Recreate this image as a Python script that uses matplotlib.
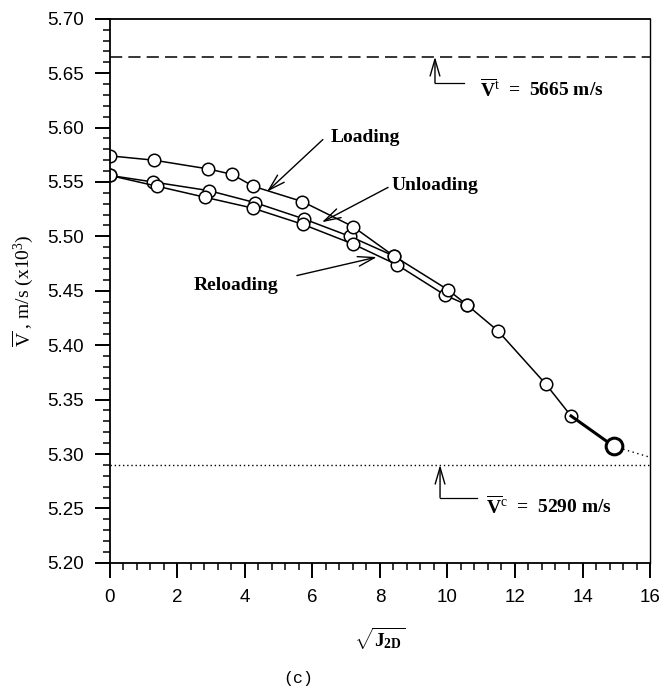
"""Pulse velocity vs sqrt(J2D) under loading / unloading / reloading (panel c)."""
import matplotlib
matplotlib.use("Agg")
import matplotlib.pyplot as plt
from matplotlib.ticker import MultipleLocator

# loading branch
load_x = [0.0, 1.31, 2.91, 3.62, 4.25, 5.70, 7.20, 8.41, 10.01, 10.58, 11.50, 12.92, 13.66]
load_v = [5.574, 5.570, 5.562, 5.557, 5.546, 5.532, 5.509, 5.482, 5.451, 5.437, 5.413, 5.364, 5.335]
# final loading stretch (drawn heavier in the original) and the peak point
final_x = [13.66, 14.93]
final_v = [5.335, 5.307]
# dotted extrapolation past the last point
extrap_x = [14.93, 16.0]
extrap_v = [5.307, 5.297]

# unloading branch
unload_x = [8.41, 7.11, 5.75, 4.30, 2.94, 1.28, 0.0]
unload_v = [5.482, 5.500, 5.516, 5.531, 5.542, 5.550, 5.556]

# reloading branch
reload_x = [0.0, 1.41, 2.81, 4.23, 5.72, 7.20, 8.50, 9.93, 10.58]
reload_v = [5.556, 5.546, 5.536, 5.526, 5.511, 5.493, 5.474, 5.446, 5.437]

V_T = 5.665   # tensile-side limit
V_C = 5.290   # compressive-side limit

plt.rcParams["font.family"] = ["Liberation Sans", "DejaVu Sans"]
plt.rcParams["mathtext.fontset"] = "custom"
plt.rcParams["mathtext.rm"] = "Liberation Serif"
plt.rcParams["mathtext.it"] = "Liberation Serif:italic"
plt.rcParams["mathtext.bf"] = "Liberation Serif:bold"
SERIF = ["Liberation Serif", "DejaVu Serif"]

fig = plt.figure(figsize=(6.66, 6.94), dpi=100)
ax = fig.add_axes([0.165, 0.189, 0.811, 0.784])

mk = dict(marker="o", ms=9, mfc="white", mec="black", mew=1.1, color="black", lw=1.1)
ax.plot(unload_x, unload_v, **mk)
ax.plot(reload_x, reload_v, **mk)
ax.plot(load_x, load_v, **mk)
ax.plot(final_x, final_v, color="black", lw=2.2)
ax.plot(extrap_x, extrap_v, color="black", lw=1.0, ls=(0, (1, 2.5)))
ax.plot(final_x[-1:], final_v[-1:], marker="o", ms=12, mfc="white", mec="black", mew=2.2)

ax.axhline(V_T, color="black", lw=1.1, ls=(0, (8, 4)))
ax.axhline(V_C, color="black", lw=1.0, ls=(0, (1, 2)))

ax.set_xlim(0, 16)
ax.set_ylim(5.20, 5.70)
ax.xaxis.set_major_locator(MultipleLocator(2))
ax.xaxis.set_minor_locator(MultipleLocator(0.4))
ax.yaxis.set_major_locator(MultipleLocator(0.05))
ax.yaxis.set_minor_locator(MultipleLocator(0.01))
ax.yaxis.set_major_formatter(matplotlib.ticker.FormatStrFormatter("%.2f"))
ax.tick_params(which="major", direction="out", length=11, width=1.4, labelsize=13.5, pad=8)
ax.tick_params(which="minor", direction="out", length=5, width=1.1)
ax.tick_params(top=False, right=False)
for s in ax.spines.values():
    s.set_linewidth(1.3)
ax.spines["right"].set_linewidth(1.0)

ax.set_ylabel(r"$\overline{\mathrm{V}}$ , m/s (x10$^3$)", fontsize=14, family=SERIF)
ax.yaxis.set_label_coords(-0.138, 0.5)
ax.set_xlabel(r"$\sqrt{\mathbf{J}_{\mathbf{2D}}}$", fontsize=14, labelpad=14)

arw = dict(arrowstyle="->,head_length=1.2,head_width=0.35", color="black", lw=1.0, shrinkA=0, shrinkB=0)
tb = dict(fontsize=14, fontweight="bold", family=SERIF, va="center")

ax.annotate("", xy=(4.65, 5.541), xytext=(6.31, 5.589), arrowprops=arw)
ax.text(6.55, 5.591, "Loading", ha="left", **tb)
ax.annotate("", xy=(6.28, 5.513), xytext=(8.24, 5.545), arrowprops=arw)
ax.text(8.35, 5.547, "Unloading", ha="left", **tb)
ax.annotate("", xy=(7.91, 5.481), xytext=(5.54, 5.464), arrowprops=arw)
ax.text(5.0, 5.455, "Reloading", ha="right", **tb)

# limit-line callouts
ax.annotate("", xy=(9.63, V_T), xytext=(9.63, 5.641), arrowprops=arw)
ax.plot([9.63, 10.5], [5.641, 5.641], color="black", lw=0.9)
ax.text(10.95, 5.635, r"$\overline{\mathbf{V}}^{\mathrm{t}}$  =  5665 m/s", ha="left", **tb)
ax.annotate("", xy=(9.78, V_C), xytext=(9.78, 5.260), arrowprops=arw)
ax.plot([9.78, 10.87], [5.260, 5.260], color="black", lw=0.9)
ax.text(11.15, 5.252, r"$\overline{\mathbf{V}}^{\mathrm{c}}$  =  5290 m/s", ha="left", **tb)

fig.text(298 / 666, 1 - 678 / 694, "(c)", fontsize=12, family=["Liberation Mono", "DejaVu Sans Mono"],
         ha="center", va="center")

fig.savefig("out.png", dpi=100)
